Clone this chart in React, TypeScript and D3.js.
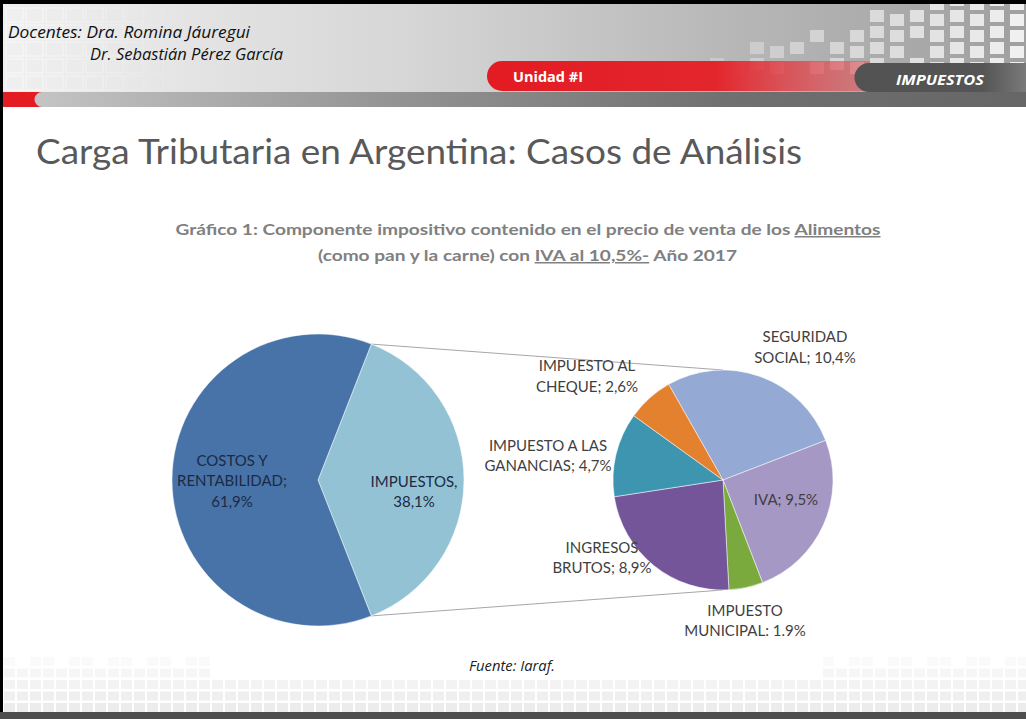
import React from 'react';
import * as d3 from 'd3';

// ---- Data ----
const mainCategories = ['IMPUESTOS', 'COSTOS Y RENTABILIDAD'];
const mainValues = [38.1, 61.9];
const mainLabels = [['IMPUESTOS,', '38,1%'], ['COSTOS Y', 'RENTABILIDAD;', '61,9%']];
const mainColors = ['#93c2d5', '#4773a9'];

const taxCategories = ['SEGURIDAD SOCIAL', 'IVA', 'IMPUESTO MUNICIPAL', 'INGRESOS BRUTOS', 'IMPUESTO A LAS GANANCIAS', 'IMPUESTO AL CHEQUE'];
const taxValues = [10.4, 9.5, 1.9, 8.9, 4.7, 2.6];
const taxLabels = [
  ['SEGURIDAD', 'SOCIAL; 10,4%'],
  ['IVA; 9,5%'],
  ['IMPUESTO', 'MUNICIPAL: 1.9%'],
  ['INGRESOS', 'BRUTOS; 8,9%'],
  ['IMPUESTO A LAS', 'GANANCIAS; 4,7%'],
  ['IMPUESTO AL', 'CHEQUE; 2,6%'],
];
const taxColors = ['#95a9d5', '#a698c4', '#7aa93d', '#74559a', '#3d95af', '#e4812f'];

// ---- Layout (not data) ----
const W = 1026, H = 719;
const main = { cx: 318, cy: 480, r: 146 };
const sec = { cx: 723, cy: 480, r: 110 };
const mainLabelOffsets = [[96, 11.5], [-86, 1]];
const taxLabelOffsets = [[82, -133], [63, 20], [22, 140.5], [-121, 77.5], [-175, -24.5], [-136, -104]];
const deg = Math.PI / 180;
const LINE = 20.5;

const FONT = 'Lato, "Open Sans", sans-serif';
const HFONT = '"Open Sans", Lato, sans-serif';

function Label({ x, y, lines, fill, size }: { x: number; y: number; lines: string[]; fill: string; size: number }) {
  const y0 = y - ((lines.length - 1) * LINE) / 2;
  return (
    <text textAnchor="middle" fontFamily={FONT} fontSize={size} fill={fill}>
      {lines.map((l, i) => (
        <tspan key={i} x={x} y={y0 + i * LINE} dy="0.36em">{l}</tspan>
      ))}
    </text>
  );
}

export default function App() {
  const impFrac = mainValues[0] / d3.sum(mainValues);
  const mainStart = Math.PI / 2 - impFrac * Math.PI;
  const mainPie = d3.pie<number>().sort(null).startAngle(mainStart).endAngle(mainStart + 2 * Math.PI)(mainValues);
  const mainArc = d3.arc<d3.PieArcDatum<number>>().innerRadius(0).outerRadius(main.r);

  const secStart = -29.6 * deg;
  const secPie = d3.pie<number>().sort(null).startAngle(secStart).endAngle(secStart + 2 * Math.PI)(taxValues);
  const secArc = d3.arc<d3.PieArcDatum<number>>().innerRadius(0).outerRadius(sec.r);

  const imp = mainPie[0];
  const pt = (a: number) => [main.cx + main.r * Math.sin(a), main.cy - main.r * Math.cos(a)];
  const [tx, ty] = pt(imp.startAngle);
  const [bx, by] = pt(imp.endAngle);

  // decorative header squares
  const headerSquares: JSX.Element[] = [];
  for (let i = 0; i < 17; i++) {
    const x = 690 + i * 20;
    const rows = Math.min(5, Math.floor(i / 3) + 1);
    for (let j = 0; j < rows; j++) {
      const y = 62 - j * 16 - (i % 2) * 4;
      if ((i * 7 + j * 3) % 5 === 0 && i < 12) continue;
      headerSquares.push(
        <rect key={`h${i}-${j}`} x={x} y={y} width={14} height={12} fill="#ffffff" opacity={0.2 + 0.04 * i} />
      );
    }
  }
  // faint grid on the left of header
  const headerLeft: JSX.Element[] = [];
  for (let i = 0; i < 8; i++) {
    for (let j = 0; j < 5; j++) {
      headerLeft.push(
        <rect key={`l${i}-${j}`} x={6 + i * 20} y={8 + j * 17} width={17} height={14} fill="none" stroke="#ffffff" strokeWidth={1.5} opacity={0.45 - i * 0.05} />
      );
    }
  }
  // footer squares
  const footerSquares: JSX.Element[] = [];
  for (let i = 0; i < 80; i++) {
    const x = 4 + i * 13;
    const edge = x < 200 || x > 820;
    for (let j = 0; j < 5; j++) {
      if (j >= 3 && !edge) continue;
      if (j === 4 && (i % 3 === 1)) continue;
      const y = 703 - j * 11.5;
      footerSquares.push(
        <rect key={`f${i}-${j}`} x={x} y={y} width={11} height={9} fill="#ececec" opacity={1 - j * 0.18} />
      );
    }
  }

  return (
    <svg width={W} height={H} style={{ position: 'absolute', left: 0, top: 0, display: 'block' }}>
      <defs>
        <linearGradient id="hdr" x1="0" x2="1" y1="0" y2="0">
          <stop offset="0" stopColor="#f0f0f0" />
          <stop offset="0.4" stopColor="#d6d6d6" />
          <stop offset="0.7" stopColor="#b8b8b8" />
          <stop offset="1" stopColor="#a0a0a0" />
        </linearGradient>
        <linearGradient id="red" x1="0" x2="1" y1="0" y2="0">
          <stop offset="0" stopColor="#e31b23" stopOpacity={1} />
          <stop offset="0.6" stopColor="#e3262d" stopOpacity={1} />
          <stop offset="1" stopColor="#e0565c" stopOpacity={0.55} />
        </linearGradient>
        <linearGradient id="band" x1="0" x2="1" y1="0" y2="0">
          <stop offset="0" stopColor="#c4c4c4" />
          <stop offset="0.35" stopColor="#959595" />
          <stop offset="0.7" stopColor="#707070" />
          <stop offset="1" stopColor="#666666" />
        </linearGradient>
        <linearGradient id="dark" x1="0" x2="1" y1="0" y2="0">
          <stop offset="0" stopColor="#525252" />
          <stop offset="0.75" stopColor="#555555" />
          <stop offset="1" stopColor="#7a7a7a" />
        </linearGradient>
      </defs>

      <rect x={0} y={0} width={W} height={H} fill="#ffffff" />

      {/* header */}
      <rect x={0} y={4} width={W} height={90} fill="url(#hdr)" />
      {headerLeft}
      {headerSquares}
      <rect x={0} y={0} width={W} height={4} fill="#000000" />
      <path d={`M502,61 H870 V91 H502 A15,15 0 0 1 502,61 Z`} fill="url(#red)" />
      <text x={513} y={82} fontFamily={HFONT} fontWeight={700} fontSize={14} fill="#ffffff" textLength={70} lengthAdjust="spacingAndGlyphs">Unidad #I</text>
      <path d={`M869,63 H${W} V92 H869 A14,14 0 0 1 869,63 Z`} fill="url(#dark)" />
      <text x={896} y={85} fontFamily={HFONT} fontWeight={700} fontStyle="italic" fontSize={14} fill="#ffffff" textLength={88} lengthAdjust="spacingAndGlyphs">IMPUESTOS</text>
      <rect x={0} y={92} width={46} height={15} fill="#e31b23" />
      <path d={`M42,92 H${W} V107 H42 A7.5,7.5 0 0 1 42,92 Z`} fill="url(#band)" />
      <text x={8} y={38} fontFamily={HFONT} fontStyle="italic" fontSize={15.5} fill="#111111" textLength={242} lengthAdjust="spacingAndGlyphs">Docentes: Dra. Romina Jáuregui</text>
      <text x={90} y={60} fontFamily={HFONT} fontStyle="italic" fontSize={15.5} fill="#111111" textLength={193} lengthAdjust="spacingAndGlyphs">Dr. Sebastián Pérez García</text>

      {/* footer */}
      {footerSquares}
      <rect x={0} y={712} width={W} height={7} fill="#4e4e4e" />
      <rect x={0} y={0} width={3} height={712} fill="#000000" />

      {/* slide title */}
      <text x={36} y={164} fontFamily={FONT} fontSize={35} fill="#595959" textLength={766} lengthAdjust="spacingAndGlyphs">
        Carga Tributaria en Argentina: Casos de Análisis
      </text>

      {/* chart title */}
      <text x={528} y={235} textAnchor="middle" fontFamily={FONT} fontWeight={700} fontSize={15} fill="#808080" textLength={705} lengthAdjust="spacingAndGlyphs">
        Gráfico 1: Componente impositivo contenido en el precio de venta de los <tspan textDecoration="underline">Alimentos</tspan>
      </text>
      <text x={527.5} y={261} textAnchor="middle" fontFamily={FONT} fontWeight={700} fontSize={15} fill="#808080" textLength={419} lengthAdjust="spacingAndGlyphs">
        (como pan y la carne) con <tspan textDecoration="underline">IVA al 10,5%-</tspan> Año 2017
      </text>

      {/* connectors */}
      <line x1={tx} y1={ty} x2={sec.cx} y2={sec.cy - sec.r} stroke="#a6a6a6" strokeWidth={1} />
      <line x1={bx} y1={by} x2={sec.cx} y2={sec.cy + sec.r} stroke="#a6a6a6" strokeWidth={1} />

      {/* main pie */}
      <g transform={`translate(${main.cx},${main.cy})`}>
        {mainPie.map((d, i) => (
          <path key={mainCategories[i]} d={mainArc(d) || ''} fill={mainColors[i]} stroke="#ffffff" strokeWidth={0.5} />
        ))}
      </g>
      {mainLabels.map((lines, i) => (
        <Label key={i} x={main.cx + mainLabelOffsets[i][0]} y={main.cy + mainLabelOffsets[i][1]} lines={lines} fill="#1c2a44" size={15} />
      ))}

      {/* secondary pie */}
      <g transform={`translate(${sec.cx},${sec.cy})`}>
        {secPie.map((d, i) => (
          <path key={taxCategories[i]} d={secArc(d) || ''} fill={taxColors[i]} stroke="#ffffff" strokeWidth={0.5} />
        ))}
      </g>
      {taxLabels.map((lines, i) => (
        <Label key={i} x={sec.cx + taxLabelOffsets[i][0]} y={sec.cy + taxLabelOffsets[i][1]} lines={lines} fill="#3f3f3f" size={15} />
      ))}

      {/* source */}
      <text x={512} y={671} textAnchor="middle" fontFamily={HFONT} fontStyle="italic" fontSize={14} fill="#222222" textLength={86} lengthAdjust="spacingAndGlyphs">Fuente: Iaraf.</text>
    </svg>
  );
}
